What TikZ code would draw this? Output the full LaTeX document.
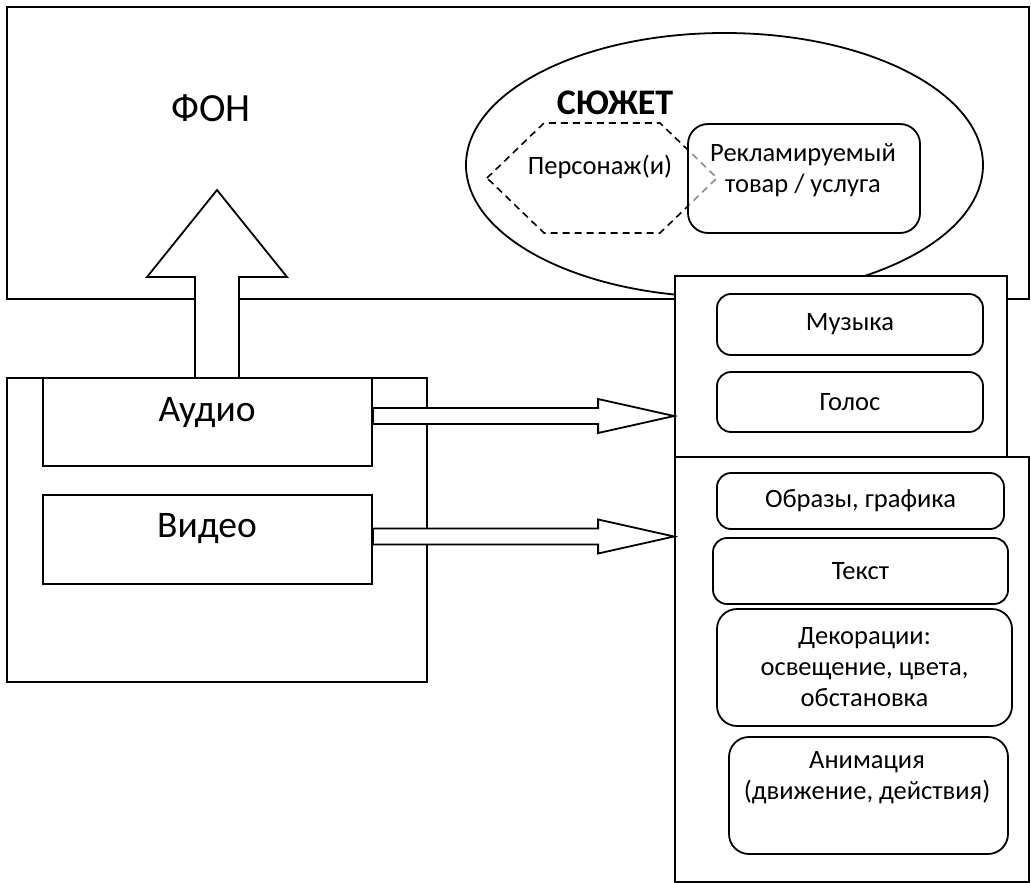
\documentclass[tikz,border=0pt]{standalone}
\usepackage{fontspec}
\setmainfont{Carlito}
\usetikzlibrary{shapes.geometric,calc,positioning}

\begin{document}
\begin{tikzpicture}[x=1pt, y=-1pt, line width=1.8pt, line join=miter,
    box/.style={draw, rectangle, fill=white, inner sep=0pt},
    item/.style={draw, rectangle, rounded corners=14pt, fill=white, inner sep=0pt, align=center, font=\fontsize{26.5}{31}\selectfont},
    bigitem/.style={item, rounded corners=20pt},
    bigtxt/.style={font=\fontsize{37.5}{44}\selectfont},
    smalltxt/.style={font=\fontsize{26.5}{31}\selectfont, align=center},
    blockarrow/.style={draw, fill=white}]
    \useasboundingbox (0,0) rectangle (1031,883);

    % Background (ФОН)
    \node[box, minimum width=1022, minimum height=292] (fon) at (518,153) {};
    \node[font=\fontsize{40}{46}\selectfont] (fonlabel) at (211,108) {ФОН};

    % Plot ellipse (СЮЖЕТ)
    \node[draw, ellipse, inner sep=0pt, minimum width=517, minimum height=264] (plot) at (724.5,165) {};
    \node[font=\fontsize{36}{42}\selectfont\bfseries] (plotlabel) at (615,103) {СЮЖЕТ};

    % Characters: dashed hexagon
    \coordinate (hex) at (602,178);
    \draw[dash pattern=on 7pt off 5pt, line width=1.6pt]
        ($(hex)+(-115,0)$) -- ($(hex)+(-58,-55)$) -- ($(hex)+(58,-55)$) -- ($(hex)+(115,0)$)
        -- ($(hex)+(58,55)$) -- ($(hex)+(-58,55)$) -- cycle;
    \node[smalltxt] (pers) at (600,167) {Персонаж(и)};

    % Advertised product box (half transparent)
    \node[draw, rectangle, rounded corners=20pt, fill=white, fill opacity=0.55, inner sep=0pt,
          minimum width=232, minimum height=109] (product) at (804,178.5) {};
    \node[smalltxt] (producttext) at (803,170) {Рекламируемый\\товар / услуга};

    % Up arrow: media -> background
    \coordinate (upbase) at (217,378);
    \coordinate (uptip) at ($(upbase)+(0,-188)$);
    \draw[blockarrow] ($(upbase)+(-22,0)$) -- ($(uptip)+(-22,87)$) -- ($(uptip)+(-70,87)$) -- (uptip)
        -- ($(uptip)+(70,87)$) -- ($(uptip)+(22,87)$) -- ($(upbase)+(22,0)$);

    % Left block: audio / video
    \node[box, minimum width=420, minimum height=304] (media) at (217,530) {};
    \node[box, minimum width=329, minimum height=88] (audio) at (207.5,422) {};
    \node[bigtxt] (audiotext) at (207,413) {Аудио};
    \node[box, minimum width=329, minimum height=89] (video) at (207.5,539.5) {};
    \node[bigtxt] (videotext) at (207,529) {Видео};

    % Right block: audio parts
    \node[box, minimum width=332, minimum height=181] (audparts) at (841,366.5) {};
    \node[item, minimum width=266, minimum height=61] (music) at (850,324.5) {Музыка};
    \node[item, minimum width=266, minimum height=60] (voice) at (850,402) {Голос};

    % Right block: video parts
    \node[box, minimum width=354, minimum height=425] (vidparts) at (852,669.5) {};
    \node[item, minimum width=287, minimum height=56] (images) at (860.5,501) {Образы, графика};
    \node[item, minimum width=295, minimum height=66] (textpart) at (860.5,571) {Текст};
    \node[bigitem, minimum width=295, minimum height=117] (decor) at (864.5,667.5) {Декорации:\\освещение, цвета,\\обстановка};
    \node[bigitem, minimum width=279, minimum height=117] (anim) at (868.5,795.5) {};
    \node[smalltxt] (animtext) at (867,777.5) {Анимация\\(движение, действия)};

    % Right arrows
    \coordinate (a1) at ($(audio.east)+(0,-6)$);
    \coordinate (a2) at (a1 -| audparts.west);
    \draw[blockarrow] ($(a1)+(0,-8)$) -- ($(a2)+(-76,-8)$) -- ($(a2)+(-76,-17)$) -- (a2)
        -- ($(a2)+(-76,17)$) -- ($(a2)+(-76,8)$) -- ($(a1)+(0,8)$) -- cycle;
    \coordinate (v1) at ($(video.east)+(0,-3)$);
    \coordinate (v2) at (v1 -| vidparts.west);
    \draw[blockarrow] ($(v1)+(0,-8)$) -- ($(v2)+(-76,-8)$) -- ($(v2)+(-76,-17)$) -- (v2)
        -- ($(v2)+(-76,17)$) -- ($(v2)+(-76,8)$) -- ($(v1)+(0,8)$) -- cycle;
\end{tikzpicture}
\end{document}
